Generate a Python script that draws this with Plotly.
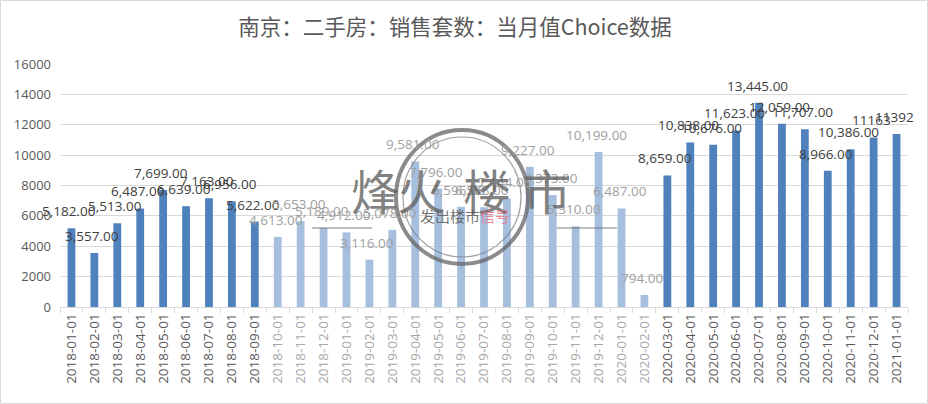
import plotly.graph_objects as go

# ---------------- data ----------------
months = [
    "2018-01-01", "2018-02-01", "2018-03-01", "2018-04-01", "2018-05-01", "2018-06-01",
    "2018-07-01", "2018-08-01", "2018-09-01", "2018-10-01", "2018-11-01", "2018-12-01",
    "2019-01-01", "2019-02-01", "2019-03-01", "2019-04-01", "2019-05-01", "2019-06-01",
    "2019-07-01", "2019-08-01", "2019-09-01", "2019-10-01", "2019-11-01", "2019-12-01",
    "2020-01-01", "2020-02-01", "2020-03-01", "2020-04-01", "2020-05-01", "2020-06-01",
    "2020-07-01", "2020-08-01", "2020-09-01", "2020-10-01", "2020-11-01", "2020-12-01",
    "2021-01-01",
]
sales = [
    5182, 3557, 5513, 6487, 7699, 6639,
    7163, 6956, 5622, 4613, 5653, 5189,
    4912, 3116, 5078, 9581, 7796, 6596,
    6568, 7144, 9227, 7373, 5310, 10199,
    6487, 794, 8659, 10838, 10676, 11623,
    13445, 12059, 11707, 8966, 10386, 11163,
    11392,
]
plain_label_months = ["2020-12-01", "2021-01-01"]
faded_start, faded_end = "2018-10-01", "2020-02-01"
y_ticks = [0, 2000, 4000, 6000, 8000, 10000, 12000, 14000, 16000]
title_text = "南京：二手房：销售套数：当月值Choice数据"

# ---------------- styles ----------------
W, H = 928, 404
ML, MR, MT, MB = 60, 20, 64, 97
BAR_DARK, BAR_LIGHT = "#4F81BD", "#A7BFDE"
LBL_DARK, LBL_LIGHT = "#404040", "#A0A0A0"
TICK_DARK, TICK_LIGHT = "#595959", "#A6A6A6"
GRID = "#D9D9D9"

faded = [faded_start <= m <= faded_end for m in months]
bar_colors = [BAR_LIGHT if f else BAR_DARK for f in faded]
tick_text = [
    f'<span style="color:{TICK_LIGHT if f else TICK_DARK}">{m}</span>'
    for m, f in zip(months, faded)
]

fig = go.Figure()
fig.add_trace(go.Bar(
    x=months, y=sales, marker=dict(color=bar_colors, line=dict(width=0)),
    hoverinfo="x+y", showlegend=False,
))

annotations = []
for m, v, f in zip(months, sales, faded):
    txt = str(v) if m in plain_label_months else f"{v:,.2f}"
    annotations.append(dict(
        x=m, y=v, xref="x", yref="y", text=txt, showarrow=False,
        yshift=17, xshift=-2,
        font=dict(family="Open Sans, Liberation Sans, sans-serif", size=13.5,
                  color=LBL_LIGHT if f else LBL_DARK),
    ))

pw, ph = W - ML - MR, H - MT - MB
def px(x):
    return (x - ML) / pw
def py(y):
    return (H - MB - y) / ph

# watermark
wm_font = "Noto Sans CJK SC"
for ch, cx in zip("烽火楼市", [375, 421, 487, 547]):
    annotations.append(dict(
        x=px(cx), y=py(189), xref="paper", yref="paper", text=ch, showarrow=False,
        font=dict(family=wm_font, size=48, color="rgba(95,95,95,0.8)"),
    ))
annotations.append(dict(
    x=px(465), y=py(228), xref="paper", yref="paper", showarrow=False,
    text='<span style="color:rgba(90,90,90,0.85)">发出楼市</span>'
         '<span style="color:rgba(230,120,140,0.85)">信号</span>',
    font=dict(family=wm_font, size=15),
))

shapes = [
    # chart border
    dict(type="rect", xref="paper", yref="paper", x0=px(0.5), x1=px(W - 0.5),
         y0=py(H - 0.5), y1=py(0.5), line=dict(color="#D9D9D9", width=1), layer="below"),
    # watermark rings
    dict(type="circle", xref="paper", yref="paper", x0=px(396), x1=px(528),
         y0=py(264), y1=py(130), line=dict(color="rgba(100,100,100,0.75)", width=4)),
    dict(type="circle", xref="paper", yref="paper", x0=px(403), x1=px(521),
         y0=py(257), y1=py(137), line=dict(color="rgba(120,120,120,0.7)", width=1.2)),
    # watermark bars
    dict(type="line", xref="paper", yref="paper", x0=px(312), x1=px(372),
         y0=py(228), y1=py(228), line=dict(color="rgba(90,90,90,0.8)", width=1.2)),
    dict(type="line", xref="paper", yref="paper", x0=px(557), x1=px(617),
         y0=py(228), y1=py(228), line=dict(color="rgba(90,90,90,0.8)", width=1.2)),
]

fig.update_layout(
    width=W, height=H,
    margin=dict(l=ML, r=MR, t=MT, b=MB, pad=0, autoexpand=False),
    paper_bgcolor="white", plot_bgcolor="white",
    bargap=0.66,
    title=dict(text=title_text, x=455 / W, xanchor="center", xref="container",
               y=1 - 27 / H, yanchor="middle", yref="container",
               font=dict(family="Noto Sans CJK SC", size=21.5, color="#595959")),
    xaxis=dict(
        type="category", tickmode="array", tickvals=months, ticktext=tick_text,
        range=[-0.5, len(months) - 0.5], autorange=False,
        tickangle=-90, showgrid=False, showline=True, linecolor=GRID, linewidth=1,
        ticks="outside", tickson="boundaries", ticklen=5, tickcolor=GRID,
        tickfont=dict(family="Open Sans, Liberation Sans, sans-serif", size=13.5, color=TICK_DARK),
        fixedrange=True, automargin=False,
    ),
    yaxis=dict(
        range=[0, 16000], tickvals=y_ticks, tickformat="d",
        showgrid=True, gridcolor=GRID, gridwidth=1, zeroline=False, showline=False,
        ticks="", ticklabelstandoff=8, automargin=False,
        tickfont=dict(family="Open Sans, Liberation Sans, sans-serif", size=13, color=TICK_DARK),
    ),
    annotations=annotations,
    shapes=shapes,
)

fig.write_html(
    "out.html",
    config={"displayModeBar": False},
    post_script="document.body.style.margin='0';document.body.style.overflow='hidden';",
)
